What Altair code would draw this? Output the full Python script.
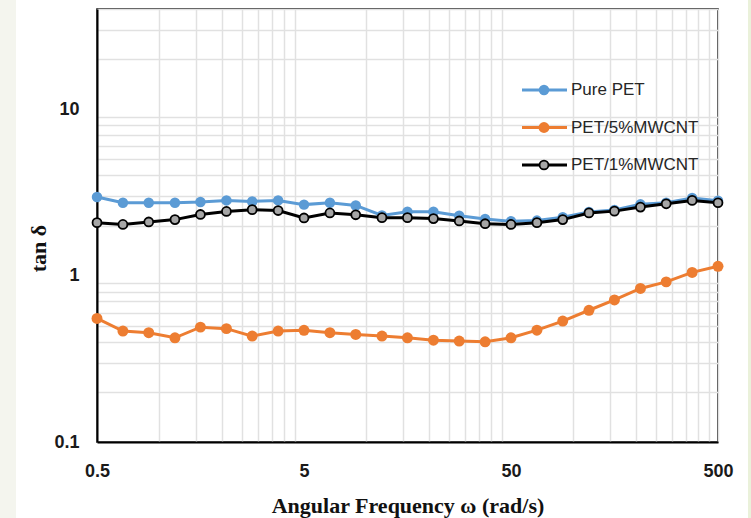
import altair as alt
import pandas as pd

# Angular frequency sweep (rad/s)
freq = [0.5, 0.667, 0.889, 1.19, 1.58, 2.11, 2.81, 3.75, 5.0,
        6.67, 8.89, 11.9, 15.8, 21.1, 28.1, 37.5, 50.0,
        66.7, 88.9, 119.0, 158.0, 211.0, 281.0, 375.0, 500.0]

# tan delta per sample
pure_pet = [2.97, 2.74, 2.74, 2.74, 2.77, 2.83, 2.79, 2.83, 2.67,
            2.74, 2.64, 2.30, 2.42, 2.42, 2.29, 2.19, 2.12,
            2.14, 2.24, 2.41, 2.48, 2.68, 2.74, 2.93, 2.82]
pet_5 = [0.553, 0.464, 0.454, 0.423, 0.490, 0.480, 0.433, 0.464, 0.469,
         0.454, 0.443, 0.433, 0.423, 0.409, 0.404, 0.400, 0.423,
         0.470, 0.533, 0.619, 0.714, 0.837, 0.917, 1.045, 1.137]
pet_1 = [2.08, 2.03, 2.10, 2.17, 2.33, 2.43, 2.49, 2.46, 2.22,
         2.38, 2.32, 2.23, 2.23, 2.20, 2.13, 2.05, 2.03,
         2.08, 2.17, 2.38, 2.44, 2.58, 2.70, 2.83, 2.74]

series_names = ["Pure PET", "PET/5%MWCNT", "PET/1%MWCNT"]

# Axis tick positions (labels only on the decades)
x_ticks = [0.5, 1, 1.5, 2, 2.5, 3, 3.5, 4, 4.5,
           5, 10, 15, 20, 25, 30, 35, 40, 45,
           50, 100, 150, 200, 250, 300, 350, 400, 450, 500]
x_labels = [0.5, 5, 50, 500]
y_ticks = [0.1, 0.2, 0.3, 0.4, 0.5, 0.6, 0.7, 0.8, 0.9,
           1, 2, 3, 4, 5, 6, 7, 8, 9,
           10, 20, 30, 40]
y_labels = [0.1, 1, 10]

styles = {
    "Pure PET": dict(line="#5B9BD5", fill="#5B9BD5", stroke="#5B9BD5", size=110, sw=0),
    "PET/5%MWCNT": dict(line="#ED7D31", fill="#ED7D31", stroke="#ED7D31", size=120, sw=0),
    "PET/1%MWCNT": dict(line="#000000", fill="#A6A6A6", stroke="#000000", size=80, sw=1.8),
}

values = {"Pure PET": pure_pet, "PET/5%MWCNT": pet_5, "PET/1%MWCNT": pet_1}

x_scale = alt.Scale(type="log", domain=[0.5, 500], nice=False)
y_scale = alt.Scale(type="log", domain=[0.1, 40], nice=False)

label_font = "Liberation Sans"
title_font = "Liberation Serif"

x_axis = alt.Axis(
    values=x_ticks,
    format="~g",
    labelExpr="indexof(%s, datum.value) >= 0 ? datum.label : ''" % str(x_labels),
    grid=True, gridColor="#e1e1e1", gridWidth=1.5,
    gridOpacity={"condition": {"test": "indexof([5, 50], datum.value) >= 0", "value": 0}, "value": 1},
    ticks=False, domainColor="#000000", domainWidth=2,
    labelFont=label_font, labelFontSize=18, labelFontWeight="bold", labelColor="#1a1a1a",
    labelPadding=20, labelOverlap=False, labelFlush=False,
    title="Angular Frequency ω (rad/s)", titleFont=title_font, titleFontSize=22,
    titleFontWeight="bold", titleColor="#111111", titleY=70, titleBaseline="alphabetic",
)
y_axis = alt.Axis(
    values=y_ticks,
    format="~g",
    labelExpr="indexof(%s, datum.value) >= 0 ? datum.label : ''" % str(y_labels),
    grid=True, gridColor="#e1e1e1", gridWidth=1.5,
    gridOpacity={"condition": {"test": "indexof([1, 10], datum.value) >= 0", "value": 0}, "value": 1},
    ticks=False, domainColor="#000000", domainWidth=2,
    labelFont=label_font, labelFontSize=18, labelFontWeight="bold", labelColor="#1a1a1a",
    labelPadding=18, labelOverlap=False, labelFlush=False, labelBaseline="middle",
    title="tan δ", titleFont=title_font, titleFontSize=22, titleFontWeight="bold",
    titleColor="#111111", titleAngle=270, titleX=-52, titleY=239,
    titleAlign="center", titleBaseline="alphabetic",
)

one = pd.DataFrame({"k": [0]})

# Page edge strips
strips = [
    alt.Chart(one).mark_rect(color="#f4f5ee").encode(
        x=alt.value(-97), x2=alt.value(-81), y=alt.value(-9), y2=alt.value(509)),
    alt.Chart(one).mark_rect(color="#eaf1da").encode(
        x=alt.value(651), x2=alt.value(660), y=alt.value(-9), y2=alt.value(509)),
]

layers = []
for name in series_names:
    st = styles[name]
    df = pd.DataFrame({"freq": freq, "tan_delta": values[name]})
    base = alt.Chart(df).encode(
        x=alt.X("freq:Q", scale=x_scale, axis=x_axis),
        y=alt.Y("tan_delta:Q", scale=y_scale, axis=y_axis),
    )
    layers.append(base.mark_line(color=st["line"], strokeWidth=3))
    layers.append(base.mark_point(shape="circle", filled=True, fill=st["fill"],
                                  stroke=st["stroke"], strokeWidth=st["sw"],
                                  size=st["size"], opacity=1))

# Legend entries drawn inside the plot
legend = []
for i, name in enumerate(series_names):
    st = styles[name]
    yy = 81 + i * 37.5
    legend.append(alt.Chart(one).mark_rule(color=st["line"], strokeWidth=3).encode(
        x=alt.value(425), x2=alt.value(470), y=alt.value(yy)))
    legend.append(alt.Chart(one).mark_point(shape="circle", filled=True, fill=st["fill"],
                                            stroke=st["stroke"], strokeWidth=st["sw"],
                                            size=st["size"], opacity=1).encode(
        x=alt.value(447), y=alt.value(yy)))
    legend.append(alt.Chart(one).mark_text(align="left", baseline="middle", font=label_font,
                                           fontSize=17, color="#262626").encode(
        x=alt.value(474), y=alt.value(yy), text=alt.value(name)))

chart = alt.layer(*layers, *strips, *legend).properties(
    width=621, height=433,
    autosize=alt.AutoSizeParams(type="none"),
    padding={"left": 97, "top": 9, "right": 33, "bottom": 76},
    background="#ffffff",
).configure_view(stroke="#000000", strokeWidth=1.5)

chart.save("out.html", embed_options={"renderer": "svg", "actions": False})
